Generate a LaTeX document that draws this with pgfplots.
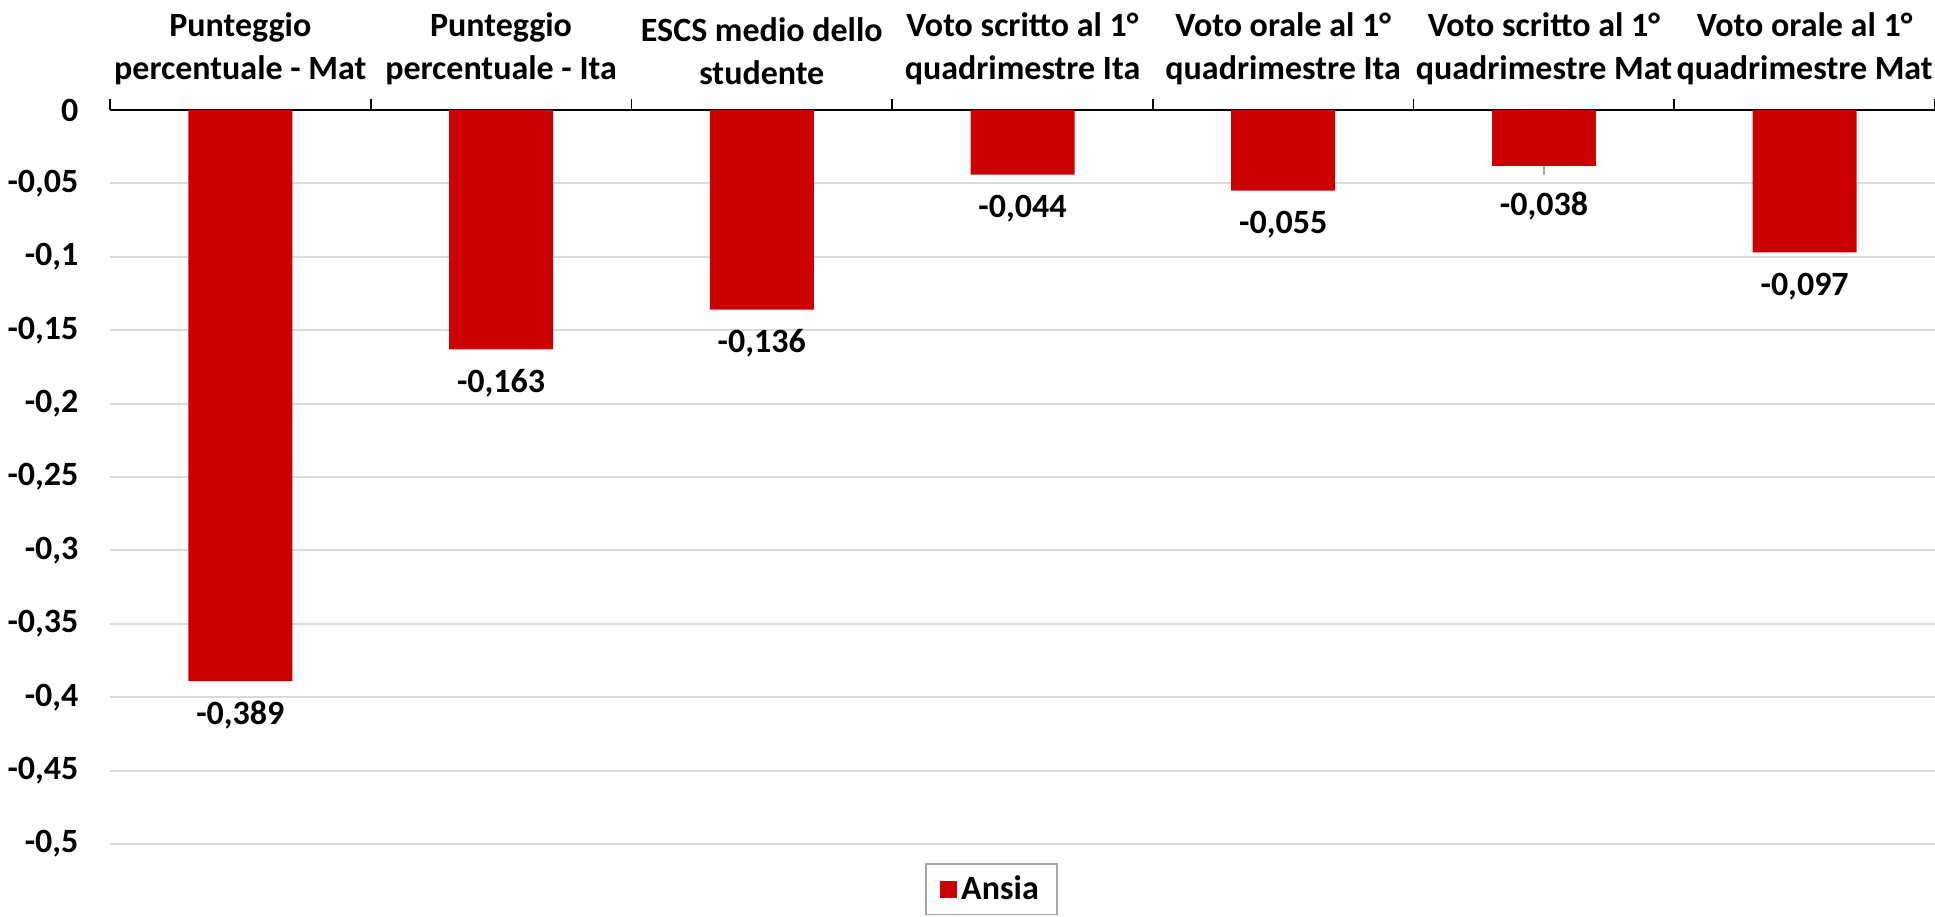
\documentclass[border=0pt]{standalone}
\usepackage{pgfplots}
\pgfplotsset{compat=1.18}
\usepackage{fontspec}
\setmainfont{Carlito}
\definecolor{barred}{HTML}{CC0000}
\definecolor{gridgray}{HTML}{D9D9D9}
\definecolor{leggray}{HTML}{A6A6A6}
\begin{document}
\begin{tikzpicture}[font=\fontsize{17}{20.5}\selectfont\bfseries]
\begin{axis}[
  scale only axis, width=912.5pt, height=367pt,
  xmin=-0.5, xmax=6.5, ymin=-0.5, ymax=0,
  axis x line*=top, axis y line*=left,
  y axis line style={draw=none},
  x axis line style={black, line width=0.9pt},
  /pgf/number format/assume math mode=true,
  xtick={0,1,2,3,4,5,6},
  xticklabels={{Punteggio\\percentuale - Mat},{Punteggio\\percentuale - Ita},{ESCS medio dello\\studente},{Voto scritto al 1°\\quadrimestre Ita},{Voto orale al 1°\\quadrimestre Ita},{Voto scritto al 1°\\quadrimestre Mat},{Voto orale al 1°\\quadrimestre Mat}},
  xticklabel style={align=center, font=\fontsize{17}{21.5}\selectfont\bfseries, yshift=5pt},
  major x tick style={draw=none},
  minor xtick={-0.5,0.5,1.5,2.5,3.5,4.5,5.5,6.5},
  minor x tick style={black, line width=0.9pt},
  minor tick length=5.5pt,
  tick align=outside,
  ytick={-0.5,-0.45,-0.4,-0.35,-0.3,-0.25,-0.2,-0.15,-0.1,-0.05,0},
  ytick style={draw=none},
  yticklabel style={/pgf/number format/.cd, fixed, use comma, precision=2, assume math mode=true, /tikz/.cd, font=\fontsize{17}{20.5}\selectfont\bfseries, xshift=-8pt},
  ymajorgrids, grid style={gridgray, line width=1pt},
  legend style={at={(0.483,0)}, anchor=north, yshift=-9.5pt, draw=leggray, line width=0.8pt, inner xsep=7pt, inner ysep=4pt, font=\fontsize{17}{20.5}\selectfont\bfseries},
  legend image code/.code={\fill[barred] (0pt,-4.25pt) rectangle (8.5pt,4.25pt);},
  nodes near coords,
  nodes near coords style={/pgf/number format/.cd, fixed, fixed zerofill, use comma, precision=3, assume math mode=true, /tikz/.cd, font=\fontsize{17}{20.5}\selectfont\bfseries, text=black},
]
\addplot[ybar, bar width=52pt, bar shift=0pt, fill=barred, draw=none,
  every node near coord/.append style={anchor=center, yshift=-17pt}]
  coordinates {(0,-0.389) (1,-0.163) (2,-0.136) (3,-0.044) (4,-0.055) (6,-0.097)};
\addlegendentry{Ansia}
\addplot[ybar, bar width=52pt, bar shift=0pt, fill=barred, draw=none, forget plot,
  every node near coord/.append style={anchor=center, yshift=-20pt}]
  coordinates {(5,-0.038)};
\draw[leggray, line width=0.8pt] (axis cs:5,-0.038) -- (axis cs:5,-0.0445);
\coordinate (bl) at (rel axis cs:0,0);
\coordinate (tr) at (rel axis cs:1,1);
\end{axis}
\pgfresetboundingbox
\path ([xshift=-55pt,yshift=-36.5pt]bl) rectangle ([yshift=55pt]tr);
\end{tikzpicture}
\end{document}
